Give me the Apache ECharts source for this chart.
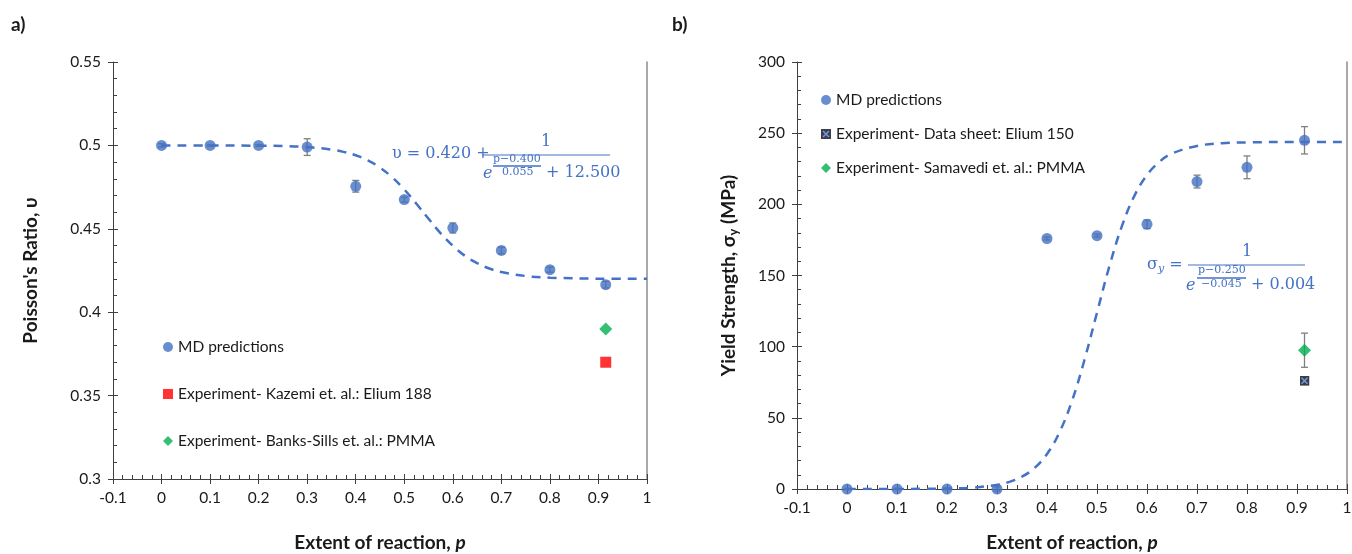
<!DOCTYPE html>
<html>
<head>
<meta charset="utf-8">
<script src="https://cdn.jsdelivr.net/npm/echarts@6/dist/echarts.min.js"></script>
<style>
  html, body { margin: 0; padding: 0; background: #fff; }
  #chart { width: 1352px; height: 554px; }
</style>
</head>
<body>
<div id="chart"></div>
<script>
// ---- data: panel a) Poisson's ratio ----
const pMD = [0, 0.1, 0.2, 0.3, 0.4, 0.5, 0.6, 0.7, 0.8, 0.915]
const nuMD = [0.5, 0.5, 0.5, 0.499, 0.4755, 0.4675, 0.4505, 0.437, 0.4255, 0.4165]
const nuErr = [0.001, 0.0005, 0.0005, 0.005, 0.0035, 0.0015, 0.003, 0.002, 0.0015, 0.002]
const nuKazemi = [[0.915, 0.37]]
const nuBanksSills = [[0.915, 0.39]]
const fitPA = [0, 0.1, 0.2, 0.25, 0.3, 0.35, 0.375, 0.4, 0.425, 0.45, 0.475, 0.5, 0.525, 0.55, 0.575, 0.6, 0.625, 0.65, 0.675, 0.7, 0.75, 0.8, 0.9, 1.0]
const fitNu = [0.5, 0.5, 0.4998, 0.4996, 0.499, 0.4975, 0.4961, 0.4941, 0.491, 0.4867, 0.4809, 0.4736, 0.465, 0.456, 0.4473, 0.4398, 0.4338, 0.4294, 0.4262, 0.4241, 0.4217, 0.4207, 0.4201, 0.42]

// ---- data: panel b) yield strength ----
const sigmaMD = [0, 0, 0, 0, 176, 178, 186, 216, 226, 245]
const sigmaErr = [0.5, 0.5, 0.5, 1.5, 1, 1, 3, 4.5, 8, 9.6]
const sigmaDataSheet = [[0.915, 76]]
const sigmaSamavedi = [[0.915, 97.5]]
const samavediErr = [12]
const fitPB = [0, 0.1, 0.15, 0.2, 0.25, 0.3, 0.325, 0.35, 0.375, 0.4, 0.425, 0.45, 0.475, 0.5, 0.525, 0.55, 0.575, 0.6, 0.625, 0.65, 0.7, 0.75, 0.8, 0.9, 1.0]
const fitSigma = [0, 0.03, 0.1, 0.32, 0.97, 2.9, 5.05, 8.7, 14.7, 24.6, 39.9, 61.9, 90.8, 123.9, 156.8, 184.9, 206.1, 220.6, 229.9, 235.7, 241.0, 242.9, 243.5, 243.8, 243.8]

const xTicks = [-0.1, 1, 0.1]          // min, max, interval
const yTicksA = [0.3, 0.55, 0.05]
const yTicksB = [0, 300, 50]

const BLUE = '#4472c4'
const AXIS = '#404040'
const TXT = '#1a1a1a'
const FONT = 'Lato, "Open Sans", sans-serif'
const MATH = '"DejaVu Serif", "Liberation Serif", serif'

const dataSheetSvg = 'image://data:image/svg+xml;utf8,' + encodeURIComponent(
  '<svg xmlns="http://www.w3.org/2000/svg" width="20" height="20" viewBox="0 0 20 20">' +
  '<rect x="0" y="0" width="20" height="20" fill="#0d0d1a"/>' +
  '<path d="M4 4 L16 16 M16 4 L4 16" stroke="#4f7fd6" stroke-width="3"/></svg>')

function pairs(xs, ys, extra) {
  return xs.map((x, i) => extra ? [x, ys[i], extra[i]] : [x, ys[i]])
}

function errorBars(params, api) {
  const x = api.value(0), y = api.value(1), e = api.value(2)
  const top = api.coord([x, y + e])
  const bot = api.coord([x, y - e])
  const w = 3.5
  const style = { stroke: '#7f7f7f', lineWidth: 1.3 }
  return {
    type: 'group',
    children: [
      { type: 'line', shape: { x1: top[0], y1: top[1], x2: bot[0], y2: bot[1] }, style },
      { type: 'line', shape: { x1: top[0] - w, y1: top[1], x2: top[0] + w, y2: top[1] }, style },
      { type: 'line', shape: { x1: bot[0] - w, y1: bot[1], x2: bot[0] + w, y2: bot[1] }, style }
    ]
  }
}

const titleRich = {
  b: { fontSize: 19, fontWeight: 'bold', fontFamily: FONT, color: TXT },
  i: { fontSize: 19, fontWeight: 'bold', fontStyle: 'italic', fontFamily: FONT, color: TXT },
  s: { fontSize: 13, fontWeight: 'bold', fontFamily: FONT, color: TXT, padding: [9, 0, 0, 0] }
}

function mainX(grid, nameGap) {
  return {
    type: 'value', gridIndex: grid, position: 'bottom',
    min: xTicks[0], max: xTicks[1], interval: xTicks[2],
    axisLine: { show: true, onZero: false, lineStyle: { color: AXIS, width: 1 } },
    axisTick: { show: true, inside: false, length: 5, lineStyle: { color: AXIS } },
    axisLabel: { color: TXT, fontSize: 15.5, fontFamily: FONT, margin: 11 },
    splitLine: { show: false },
    name: '{b|Extent of reaction, }{i|p}',
    nameLocation: 'middle', nameGap: nameGap,
    nameTextStyle: { rich: titleRich }
  }
}
function minorX(grid) {
  return {
    type: 'value', gridIndex: grid, position: 'bottom',
    min: xTicks[0], max: xTicks[1], interval: xTicks[2],
    axisLine: { show: false, onZero: false },
    axisTick: { show: true, inside: true, length: 5, lineStyle: { color: AXIS } },
    minorTick: { show: true, splitNumber: 5, length: 4, lineStyle: { color: AXIS } },
    axisLabel: { show: false }, splitLine: { show: false }
  }
}
function mainY(grid, t, name, nameGap) {
  return {
    type: 'value', gridIndex: grid, position: 'left',
    min: t[0], max: t[1], interval: t[2],
    axisLine: { show: true, onZero: false, lineStyle: { color: AXIS, width: 1 } },
    axisTick: { show: true, inside: false, length: 5, lineStyle: { color: AXIS } },
    axisLabel: { color: TXT, fontSize: 15.5, fontFamily: FONT, margin: 12 },
    splitLine: { show: false },
    name: name, nameLocation: 'middle', nameGap: nameGap,
    nameTextStyle: { rich: titleRich }
  }
}
function minorY(grid, t) {
  return {
    type: 'value', gridIndex: grid, position: 'left',
    min: t[0], max: t[1], interval: t[2],
    axisLine: { show: false, onZero: false },
    axisTick: { show: true, inside: true, length: 5, lineStyle: { color: AXIS } },
    minorTick: { show: true, splitNumber: 5, length: 4, lineStyle: { color: AXIS } },
    axisLabel: { show: false }, splitLine: { show: false }
  }
}
function borderY(grid, t) {
  return {
    type: 'value', gridIndex: grid, position: 'right',
    min: t[0], max: t[1], interval: t[2],
    axisLine: { show: true, onZero: false, lineStyle: { color: '#8c8c8c', width: 1.5 } },
    axisTick: { show: false }, axisLabel: { show: false }, splitLine: { show: false }
  }
}

function mathText(x, y, text, size, style) {
  return {
    type: 'text', left: x, top: y,
    style: { text, fill: BLUE, font: (style ? style + ' ' : '') + size + 'px ' + MATH }
  }
}
function bar(x1, x2, y, w) {
  return { type: 'line', shape: { x1, y1: y, x2, y2: y }, style: { stroke: BLUE, lineWidth: w || 1 } }
}

const legendText = { fontSize: 15.5, fontFamily: FONT, color: TXT }

const chart = echarts.init(document.getElementById('chart'), null, { renderer: 'canvas' })

chart.setOption({
  animation: false,
  backgroundColor: '#fff',
  grid: [
    { left: 113, right: 705, top: 62, bottom: 75, outerBoundsMode: 'none', containLabel: false },
    { left: 797, right: 5, top: 62, bottom: 65, outerBoundsMode: 'none', containLabel: false }
  ],
  xAxis: [mainX(0, 54), minorX(0), mainX(1, 44), minorX(1)],
  yAxis: [
    mainY(0, yTicksA, "{b|Poisson's Ratio, υ}", 73),
    minorY(0, yTicksA),
    borderY(0, yTicksA),
    mainY(1, yTicksB, '{b|Yield Strength, σ}{s|y}{b| (MPa)}', 57),
    minorY(1, yTicksB),
    borderY(1, yTicksB)
  ],
  legend: [
    {
      orient: 'vertical', left: 163, top: 339, itemGap: 31, padding: 0,
      itemWidth: 10, itemHeight: 10, textStyle: legendText,
      data: [
        { name: 'MD predictions', icon: 'circle' },
        { name: 'Experiment- Kazemi et. al.: Elium 188', icon: 'rect' },
        { name: 'Experiment- Banks-Sills et. al.: PMMA', icon: 'diamond' }
      ]
    },
    {
      orient: 'vertical', left: 821, top: 92, itemGap: 18, padding: 0,
      itemWidth: 10, itemHeight: 10, textStyle: legendText,
      data: [
        { name: 'MD predictions ', icon: 'circle' },
        { name: 'Experiment- Data sheet: Elium 150', icon: dataSheetSvg },
        { name: 'Experiment- Samavedi et. al.: PMMA', icon: 'diamond' }
      ]
    }
  ],
  series: [
    // panel a
    {
      type: 'line', name: 'fitA', xAxisIndex: 0, yAxisIndex: 0,
      data: pairs(fitPA, fitNu), smooth: 0.4, showSymbol: false, silent: true, z: 2,
      lineStyle: { color: BLUE, width: 2.5, type: [9, 7] }
    },
    {
      type: 'custom', name: 'errA', xAxisIndex: 0, yAxisIndex: 0, z: 3,
      data: pairs(pMD, nuMD, nuErr), renderItem: errorBars
    },
    {
      type: 'scatter', name: 'MD predictions', xAxisIndex: 0, yAxisIndex: 0, z: 4,
      data: pairs(pMD, nuMD), symbol: 'circle', symbolSize: 11, itemStyle: { color: BLUE }
    },
    {
      type: 'scatter', name: 'Experiment- Kazemi et. al.: Elium 188', xAxisIndex: 0, yAxisIndex: 0, z: 4,
      data: nuKazemi, symbol: 'rect', symbolSize: 11, itemStyle: { color: '#ff0000' }
    },
    {
      type: 'scatter', name: 'Experiment- Banks-Sills et. al.: PMMA', xAxisIndex: 0, yAxisIndex: 0, z: 4,
      data: nuBanksSills, symbol: 'diamond', symbolSize: 13, itemStyle: { color: '#00b050' }
    },
    // panel b
    {
      type: 'line', name: 'fitB', xAxisIndex: 2, yAxisIndex: 3,
      data: pairs(fitPB, fitSigma), smooth: 0.4, showSymbol: false, silent: true, z: 2,
      lineStyle: { color: BLUE, width: 2.5, type: [9, 7] }
    },
    {
      type: 'custom', name: 'errB', xAxisIndex: 2, yAxisIndex: 3, z: 3,
      data: pairs(pMD, sigmaMD, sigmaErr).concat([[sigmaSamavedi[0][0], sigmaSamavedi[0][1], samavediErr[0]]]),
      renderItem: errorBars
    },
    {
      type: 'scatter', name: 'MD predictions ', xAxisIndex: 2, yAxisIndex: 3, z: 4,
      data: pairs(pMD, sigmaMD), symbol: 'circle', symbolSize: 11, itemStyle: { color: BLUE }
    },
    {
      type: 'scatter', name: 'Experiment- Data sheet: Elium 150', xAxisIndex: 2, yAxisIndex: 3, z: 4,
      data: sigmaDataSheet, symbol: dataSheetSvg, symbolSize: 10
    },
    {
      type: 'scatter', name: 'Experiment- Samavedi et. al.: PMMA', xAxisIndex: 2, yAxisIndex: 3, z: 4,
      data: sigmaSamavedi, symbol: 'diamond', symbolSize: 13, itemStyle: { color: '#00b050' }
    }
  ],
  graphic: [
    { type: 'text', left: 11, top: 15, style: { text: 'a)', font: 'bold 19px ' + FONT, fill: TXT } },
    { type: 'text', left: 672, top: 15, style: { text: 'b)', font: 'bold 19px ' + FONT, fill: TXT } },
    // fitted equation, panel a
    mathText(392, 146, 'υ = 0.420 +', 16),
    bar(482, 610, 155, 1),
    mathText(541, 134, '1', 16),
    mathText(483, 166, 'e', 16, 'italic'),
    mathText(493, 154, 'p−0.400', 11),
    bar(493, 541, 166, 1.5),
    mathText(502, 167, '0.055', 11),
    mathText(546, 165, '+ 12.500', 16),
    // fitted equation, panel b
    { type: 'text', left: 1147, top: 257, style: { text: '{a|σ}{b|y}{a| =}', fill: BLUE, rich: { a: { font: '16px ' + MATH, fill: BLUE }, b: { font: 'italic 11px ' + MATH, fill: BLUE, padding: [8, 0, 0, 0] } } } },
    bar(1188, 1305, 265, 1),
    mathText(1242, 244, '1', 16),
    mathText(1186, 278, 'e', 16, 'italic'),
    mathText(1198, 265, 'p−0.250', 11),
    bar(1197, 1246, 278, 1.5),
    mathText(1201, 279, '−0.045', 11),
    mathText(1251, 277, '+ 0.004', 16)
  ]
})
</script>
</body>
</html>
